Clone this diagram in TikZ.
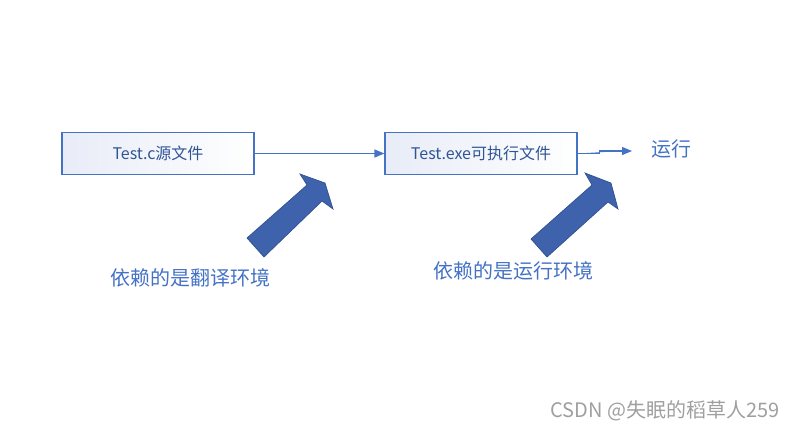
\documentclass[tikz,border=0pt]{standalone}
\usepackage{fontspec}
\setmainfont{Noto Sans CJK SC}
\usetikzlibrary{arrows.meta}
\definecolor{boxblue}{RGB}{68,114,196}
\definecolor{textblue}{RGB}{47,85,151}
\definecolor{arrowfill}{RGB}{63,98,173}
\definecolor{arrowline}{RGB}{47,80,140}
\definecolor{boxshade}{RGB}{232,236,247}
\tikzset{
  filebox/.style={draw=boxblue, line width=0.9pt, left color=boxshade, right color=white,
    minimum width=144pt, minimum height=32pt, inner sep=0pt,
    text=textblue, font=\fontsize{12}{14}\selectfont},
  biglabel/.style={text=boxblue, font=\fontsize{15}{17}\selectfont},
  bigarrow/.style={fill=arrowfill, draw=arrowline, line width=0.5pt, line join=miter},
}
\begin{document}
\begin{tikzpicture}[x=0.75pt, y=-0.75pt, >={Triangle[length=7.5pt,width=6pt]}]
  \useasboundingbox (0,0) rectangle (793,433);
  % the two files
  \node[filebox] (src) at (158,153.5) {Test.c源文件};
  \node[filebox] (exe) at (481,153.5) {Test.exe可执行文件};
  \node[biglabel] (run) at (671,149) {运行};
  \coordinate (runend) at (632,151);
  \draw[->, draw=boxblue, line width=0.9pt, fill=boxblue] (src) -- (exe);
  \draw[->, draw=boxblue, line width=0.9pt, fill=boxblue] (exe.east) -- ++(22,0) |- (runend);
  % block arrows
  \draw[bigarrow] (247,238) -- (307,185) -- (300,174) -- (325,183) -- (333,209)
    -- (322,201) -- (264,257) -- cycle;
  \draw[bigarrow] (531,239) -- (592,185) -- (585,173) -- (611,183) -- (618,209)
    -- (608,202) -- (547,257) -- cycle;
  % dependencies
  \node[biglabel] (build) at (190,278) {依赖的是翻译环境};
  \node[biglabel] (runenv) at (513,271) {依赖的是运行环境};
  \node[text=gray!75, font=\fontsize{15}{17}\selectfont] (mark) at (665,411) {CSDN @失眠的稻草人259};
\end{tikzpicture}
\end{document}
